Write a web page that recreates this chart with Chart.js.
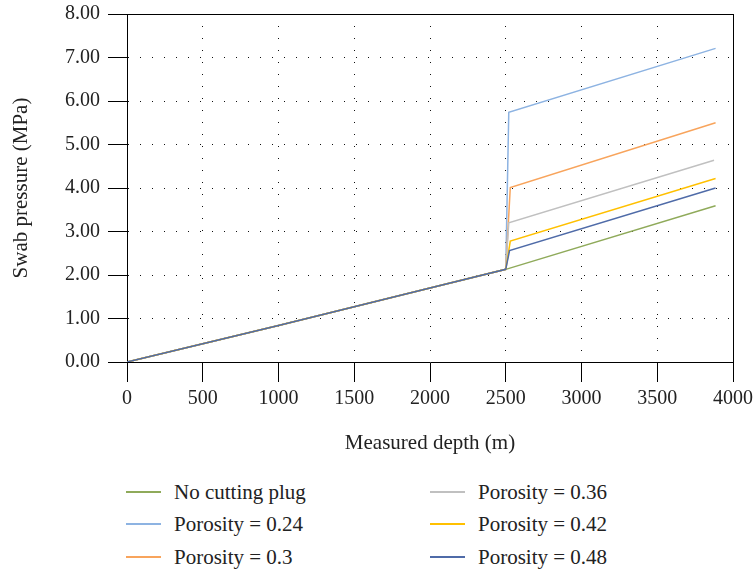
<!DOCTYPE html>
<html>
<head>
<meta charset="utf-8">
<script src="https://cdn.jsdelivr.net/npm/chart.js@4/dist/chart.umd.min.js"></script>
<style>
  html, body { margin: 0; padding: 0; background: #fff; }
  #wrap { position: relative; width: 753px; height: 574px; }
  #c { position: absolute; left: 0; top: 0; }
  .lg { position: absolute; font-family: "Liberation Serif", serif; font-size: 21px; color: #222; white-space: nowrap; line-height: 24px; }
  .lg span.sw { position: absolute; top: 11px; height: 2px; width: 35px; }
  .lg span.tx { position: absolute; top: 0; }
</style>
</head>
<body>
<div id="wrap">
  <canvas id="c" width="753" height="470"></canvas>
</div>
<script>
// ---- data ----
const seriesNames = ["No cutting plug", "Porosity = 0.24", "Porosity = 0.3", "Porosity = 0.36", "Porosity = 0.42", "Porosity = 0.48"];
const seriesColors = ["#8faa5a", "#8db3e2", "#f8a45c", "#c0c0c0", "#ffc000", "#4f6ba8"];

// common section (all series coincide up to 2500 m)
const baseDepth = [0, 500, 1000, 1500, 2000, 2500];
const basePressure = [0, 0.42, 0.84, 1.27, 1.70, 2.13];

// section after the plug (depth, pressure) for each series
const tailDepth = [
  [3885],
  [2520, 3885],
  [2530, 3885],
  [2520, 3875],
  [2530, 3885],
  [2525, 3885]
];
const tailPressure = [
  [3.59],
  [5.74, 7.21],
  [4.01, 5.50],
  [3.20, 4.64],
  [2.78, 4.22],
  [2.56, 4.00]
];

const xTicks = [0, 500, 1000, 1500, 2000, 2500, 3000, 3500, 4000];
const yTicks = [0, 1, 2, 3, 4, 5, 6, 7, 8];
const xTitle = "Measured depth (m)";
const yTitle = "Swab pressure (MPa)";

// ---- build chart ----
const FONT = "'Liberation Serif', serif";
const datasets = seriesNames.map((name, i) => {
  const xs = baseDepth.concat(tailDepth[i]);
  const ys = basePressure.concat(tailPressure[i]);
  return {
    label: name,
    data: xs.map((x, k) => ({ x: x, y: ys[k] })),
    borderColor: seriesColors[i],
    backgroundColor: seriesColors[i],
    borderWidth: 1.5,
    pointRadius: 0,
    tension: 0,
    fill: false,
    order: seriesNames.length - i
  };
});

const frame = {
  id: 'frame',
  beforeDatasetsDraw(chart) {
    const { ctx, chartArea: a } = chart;
    ctx.save();
    ctx.strokeStyle = '#000';
    ctx.lineWidth = 1;
    ctx.beginPath();
    ctx.moveTo(Math.round(a.left) + 0.5, Math.round(a.top) + 0.5);
    ctx.lineTo(Math.round(a.right) + 0.5, Math.round(a.top) + 0.5);
    ctx.lineTo(Math.round(a.right) + 0.5, Math.round(a.bottom) + 0.5);
    ctx.stroke();
    ctx.restore();
  }
};

new Chart(document.getElementById('c'), {
  type: 'line',
  data: { datasets },
  plugins: [frame],
  options: {
    responsive: false,
    animation: false,
    events: [],
    layout: { padding: { left: 0, top: 14, right: 20, bottom: 0 } },
    plugins: { legend: { display: false }, tooltip: { enabled: false } },
    scales: {
      x: {
        type: 'linear',
        min: 0, max: 4000,
        afterBuildTicks(s) { s.ticks = xTicks.map(v => ({ value: v })); },
        afterFit(s) { s.height = 108; s.paddingLeft = 0; s.paddingRight = 0; },
        ticks: { color: '#222', font: { family: FONT, size: 20 }, padding: 5, maxRotation: 0, callback: v => String(v) },
        grid: { color: '#111', lineWidth: 1, tickLength: 20, tickColor: '#000', tickWidth: 1 },
        border: { display: true, color: '#000', width: 1, dash: [1, 11] },
        title: { display: true, text: xTitle, color: '#222', font: { family: FONT, size: 21 }, padding: { top: 0, bottom: 14 } }
      },
      y: {
        type: 'linear',
        min: 0, max: 8,
        afterBuildTicks(s) { s.ticks = yTicks.map(v => ({ value: v })); },
        afterFit(s) { s.width = 127; s.paddingTop = 0; s.paddingBottom = 0; },
        ticks: { color: '#222', font: { family: FONT, size: 20 }, padding: 8, callback: v => Number(v).toFixed(2) },
        grid: { color: '#111', lineWidth: 1, tickLength: 19, tickColor: '#000', tickWidth: 1 },
        border: { display: true, color: '#000', width: 1, dash: [1, 11] },
        title: { display: true, text: yTitle, color: '#222', font: { family: FONT, size: 21 }, padding: { top: 9, bottom: 0 } }
      }
    }
  }
});

// ---- legend (two columns, 3 rows) ----
const wrap = document.getElementById('wrap');
const colX = [126, 430];
const rowY = [480, 512, 545];
seriesNames.forEach((name, i) => {
  const col = Math.floor(i / 3), row = i % 3;
  const d = document.createElement('div');
  d.className = 'lg';
  d.style.left = colX[col] + 'px';
  d.style.top = rowY[row] + 'px';
  d.innerHTML = '<span class="sw"></span><span class="tx"></span>';
  d.querySelector('.sw').style.background = seriesColors[i];
  const t = d.querySelector('.tx');
  t.style.left = '48px';
  t.textContent = name;
  wrap.appendChild(d);
});
</script>
</body>
</html>
